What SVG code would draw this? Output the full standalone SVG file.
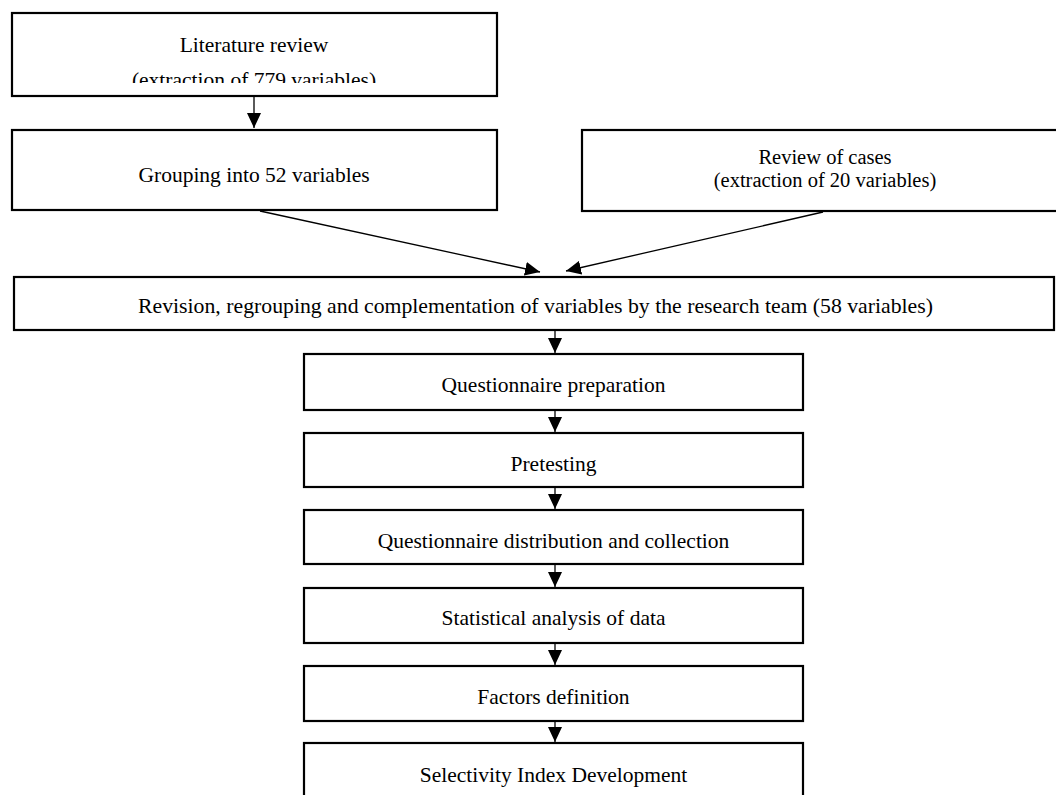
<svg xmlns="http://www.w3.org/2000/svg" width="1056" height="795" viewBox="0 0 1056 795">
<style>
  .box { fill: #ffffff; stroke: #000000; stroke-width: 2.2; }
  .lbl { font-family: "Liberation Serif", "Times New Roman", serif; font-size: 21.5px; fill: #000000; text-anchor: middle; }
  .sm { font-size: 20.5px; }
  .conn { stroke: #000000; stroke-width: 1.3; fill: none; marker-end: url(#arrow); }
</style>
<defs>
  <marker id="arrow" markerUnits="userSpaceOnUse" markerWidth="16" markerHeight="14" refX="15" refY="7" orient="auto">
    <path d="M0,0 L15,7 L0,14 Z" fill="#000000"/>
  </marker>
  <clipPath id="clip1">
    <rect x="12" y="13" width="485" height="70"/>
  </clipPath>
</defs>
<rect width="1056" height="795" fill="#ffffff"/>

<g id="connectors">
  <line class="conn" x1="254" y1="97" x2="254" y2="128"/>
  <line class="conn" x1="260" y1="211" x2="540" y2="272"/>
  <line class="conn" x1="823" y1="212" x2="566" y2="271"/>
  <line class="conn" x1="555" y1="331" x2="555" y2="353"/>
  <line class="conn" x1="555" y1="411" x2="555" y2="432"/>
  <line class="conn" x1="555" y1="488" x2="555" y2="509"/>
  <line class="conn" x1="555" y1="565" x2="555" y2="587"/>
  <line class="conn" x1="555" y1="644" x2="555" y2="665"/>
  <line class="conn" x1="555" y1="722" x2="555" y2="742"/>
</g>

<g id="n-literature">
  <rect class="box" x="12" y="13" width="485" height="83"/>
  <g clip-path="url(#clip1)">
    <text class="lbl" x="254" y="52">Literature review</text>
    <text class="lbl" x="254" y="87">(extraction of 779 variables)</text>
  </g>
</g>

<g id="n-grouping">
  <rect class="box" x="12" y="130" width="485" height="80"/>
  <text class="lbl" x="254" y="182">Grouping into 52 variables</text>
</g>

<g id="n-cases">
  <rect class="box" x="582" y="130" width="480" height="81"/>
  <text class="lbl sm" x="825" y="164">Review of cases</text>
  <text class="lbl sm" x="825" y="187">(extraction of 20 variables)</text>
</g>

<g id="n-revision">
  <rect class="box" x="14" y="277" width="1040" height="53"/>
  <text class="lbl" x="535.5" y="313" textLength="795" lengthAdjust="spacingAndGlyphs">Revision, regrouping and complementation of variables by the research team (58 variables)</text>
</g>

<g id="n-prep">
  <rect class="box" x="304" y="354" width="499" height="56"/>
  <text class="lbl" x="553.5" y="392">Questionnaire preparation</text>
</g>

<g id="n-pretest">
  <rect class="box" x="304" y="433" width="499" height="54"/>
  <text class="lbl" x="553.5" y="471">Pretesting</text>
</g>

<g id="n-distribution">
  <rect class="box" x="304" y="510" width="499" height="54"/>
  <text class="lbl" x="553.5" y="548">Questionnaire distribution and collection</text>
</g>

<g id="n-statistics">
  <rect class="box" x="304" y="588" width="499" height="55"/>
  <text class="lbl" x="553.5" y="625">Statistical analysis of data</text>
</g>

<g id="n-factors">
  <rect class="box" x="304" y="666" width="499" height="55"/>
  <text class="lbl" x="553.5" y="704">Factors definition</text>
</g>

<g id="n-index">
  <rect class="box" x="304" y="743" width="499" height="60"/>
  <text class="lbl" x="553.5" y="782">Selectivity Index Development</text>
</g>
</svg>
